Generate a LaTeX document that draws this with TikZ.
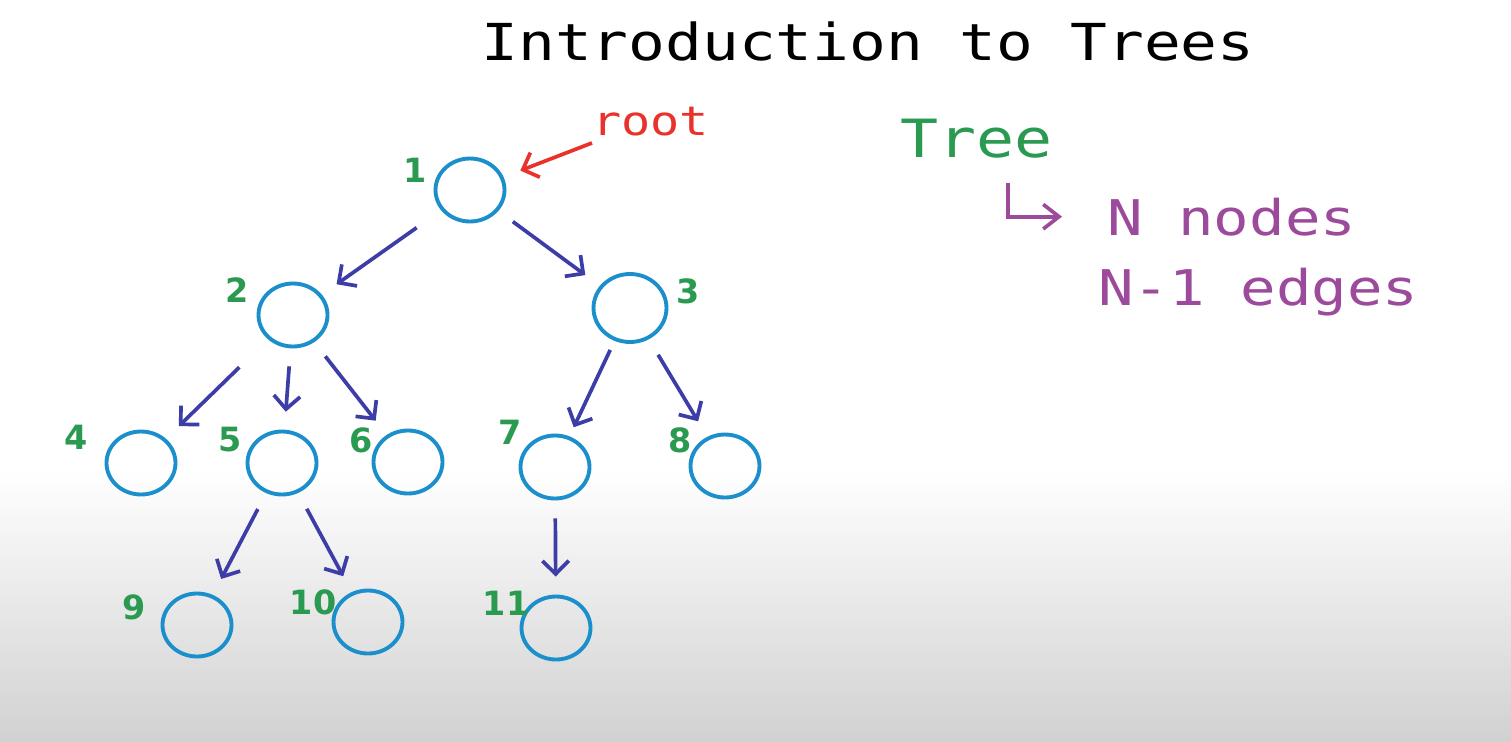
\documentclass[tikz,border=0pt]{standalone}
\usepackage{fontspec}
\usetikzlibrary{shapes.geometric,arrows.meta,positioning}
\newfontfamily\handfont[FakeStretch=1.2]{DejaVu Sans Mono}
\newfontfamily\numfont{DejaVu Sans}
\definecolor{circblue}{HTML}{1B8FCB}
\definecolor{arrowblue}{HTML}{3D3DA8}
\definecolor{numgreen}{HTML}{2A9A50}
\definecolor{rootred}{HTML}{E8322B}
\definecolor{notepurple}{HTML}{9C4A9B}

\begin{document}
\begin{tikzpicture}[x=0.02cm, y=-0.02cm,
  vertex/.style={draw=circblue, ellipse, line width=2.2pt, minimum width=1.38cm, minimum height=1.26cm, inner sep=0pt},
  num/.style={text=numgreen, font=\numfont\bfseries\fontsize{19}{19}\selectfont, inner sep=0pt},
  hand/.style={anchor=base west, inner sep=0pt, font=\handfont\fontsize{28}{28}\selectfont},
  link/.style={draw=arrowblue, line width=2.1pt, -{Straight Barb[length=7.5pt,width=15pt]}, shorten <=0.36cm, shorten >=0.36cm},
  pen/.style={line width=2.1pt, -{Straight Barb[length=7.5pt,width=15pt]}}
]
% background, white fading into grey at the bottom
\fill[white] (0,0) rectangle (1511,741);
\shade[top color=white, bottom color=black!18] (0,470) rectangle (1511,741);
\useasboundingbox (0,0) rectangle (1511,741);

\node[hand, anchor=base, font=\handfont\fontsize{29}{29}\selectfont] (title) at (868,60) {Introduction to Trees};

% the tree
\node[vertex] (n1) at (470,190) {};
\node[vertex] (n2) at (293,315) {};
\node[vertex, minimum width=1.46cm, minimum height=1.36cm] (n3) at (630,308) {};
\node[vertex] (n4) at (141,463) {};
\node[vertex] (n5) at (282,463) {};
\node[vertex] (n6) at (408,462) {};
\node[vertex] (n7) at (555,467) {};
\node[vertex] (n8) at (725,466) {};
\node[vertex] (n9) at (197,625) {};
\node[vertex] (n10) at (368,622) {};
\node[vertex] (n11) at (556,628) {};

\node[num] (l1) at (415,170) {1};
\node[num] (l2) at (237,290) {2};
\node[num] (l3) at (688,291) {3};
\node[num] (l4) at (76,437) {4};
\node[num] (l5) at (230,440) {5};
\node[num] (l6) at (361,440) {6};
\node[num] (l7) at (510,432) {7};
\node[num] (l8) at (680,440) {8};
\node[num] (l9) at (134,607) {9};
\node[num] (l10) at (313,602) {10};
\node[num] (l11) at (506,603) {11};

\draw[link, shorten <=0.6cm] (n1)--(n2); \draw[link] (n1)--(n3);
\draw[link, shorten <=0.8cm] (n2)--(n4); \draw[link] (n2)--(n5); \draw[link] (n2)--(n6);
\draw[link, shorten <=0.2cm, shorten >=0.2cm] (n3)--(n7); \draw[link] (n3)--(n8);
\draw[link] (n5)--(n9); \draw[link] (n5)--(n10); \draw[link] (n7)--(n11);

% root marker
\node[hand, text=rootred, font=\handfont\fontsize{23}{23}\selectfont] (root) at (592,135) {root};
\draw[pen, rootred, shorten >=0.36cm] ([yshift=-4pt]root.south west)--(n1);

% notes on the right
\node[hand, text=numgreen, font=\handfont\fontsize{30}{30}\selectfont] (tree) at (900,157) {Tree};
\node[hand, text=notepurple] (nnodes) at (1107,235) {N nodes};
\node[hand, text=notepurple] (nedges) at (1098,305) {N-1 edges};
\coordinate (hook) at (1008,183);
\draw[pen, notepurple, -{Straight Barb[length=9pt,width=14pt]}, shorten >=0.9cm] (hook) |- (nnodes.west);
\end{tikzpicture}
\end{document}
